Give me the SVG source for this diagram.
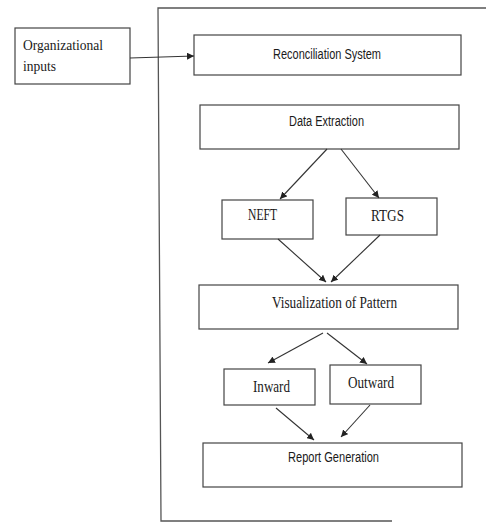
<svg xmlns="http://www.w3.org/2000/svg" width="486" height="522" viewBox="0 0 486 522">
<defs>
<style>
.box{fill:#fff;stroke:#444;stroke-width:1.2}
.frame{fill:none;stroke:#555;stroke-width:1.3}
.con{stroke:#333;stroke-width:1.1;fill:none;marker-end:url(#ah)}
.sans{font-family:"Liberation Sans",Arial,sans-serif;font-size:14px;fill:#1a1a1a;text-anchor:middle}
.serif{font-family:"Liberation Serif","Times New Roman",serif;font-size:16px;fill:#1a1a1a}
.mid{text-anchor:middle}
</style>
<marker id="ah" viewBox="0 0 10 10" refX="10" refY="5" markerWidth="7" markerHeight="7" markerUnits="userSpaceOnUse" orient="auto">
<path d="M0,0 L10,5 L0,10 z" fill="#222"/>
</marker>
</defs>
<rect width="486" height="522" fill="#fff"/>
<path class="frame" d="M486,8 L158,8 L161,521 L392,521"/>
<g id="org">
<rect class="box" x="15" y="28" width="115" height="56"/>
<text class="serif" x="23" y="50" style="font-size:15px" textLength="80" lengthAdjust="spacingAndGlyphs">Organizational</text>
<text class="serif" x="23" y="71" style="font-size:15px" textLength="33" lengthAdjust="spacingAndGlyphs">inputs</text>
</g>
<g id="recon">
<rect class="box" x="194" y="35" width="267" height="40"/>
<text class="sans" x="327" y="59" textLength="108" lengthAdjust="spacingAndGlyphs">Reconciliation System</text>
</g>
<g id="extract">
<rect class="box" x="200" y="105" width="259" height="44"/>
<text class="sans" x="326.5" y="126" textLength="75" lengthAdjust="spacingAndGlyphs">Data Extraction</text>
</g>
<g id="neft">
<rect class="box" x="222" y="200" width="91" height="39"/>
<text class="serif mid" x="262.5" y="220" textLength="29" lengthAdjust="spacingAndGlyphs">NEFT</text>
</g>
<g id="rtgs">
<rect class="box" x="346" y="198" width="91" height="37"/>
<text class="serif mid" x="387.5" y="221" textLength="33" lengthAdjust="spacingAndGlyphs">RTGS</text>
</g>
<g id="visual">
<rect class="box" x="199" y="285" width="259" height="44"/>
<text class="serif mid" x="334.5" y="308" textLength="125" lengthAdjust="spacingAndGlyphs">Visualization of Pattern</text>
</g>
<g id="inward">
<rect class="box" x="224" y="369" width="91" height="36"/>
<text class="serif mid" x="271.5" y="392" textLength="37" lengthAdjust="spacingAndGlyphs">Inward</text>
</g>
<g id="outward">
<rect class="box" x="330" y="365" width="91" height="39"/>
<text class="serif mid" x="371" y="388" textLength="46" lengthAdjust="spacingAndGlyphs">Outward</text>
</g>
<g id="report">
<rect class="box" x="203" y="443" width="259" height="44"/>
<text class="sans" x="333.5" y="462" textLength="91" lengthAdjust="spacingAndGlyphs">Report Generation</text>
</g>
<g id="connectors">
<line class="con" x1="130" y1="58" x2="194" y2="56"/>
<line class="con" x1="327" y1="149" x2="280" y2="199"/>
<line class="con" x1="341" y1="149" x2="379" y2="198"/>
<line class="con" x1="278" y1="239" x2="326" y2="282"/>
<line class="con" x1="380" y1="235" x2="331" y2="282"/>
<line class="con" x1="323" y1="333" x2="268" y2="363"/>
<line class="con" x1="327" y1="333" x2="367" y2="364"/>
<line class="con" x1="276" y1="408" x2="314" y2="440"/>
<line class="con" x1="370" y1="405" x2="341" y2="437"/>
</g>
</svg>
